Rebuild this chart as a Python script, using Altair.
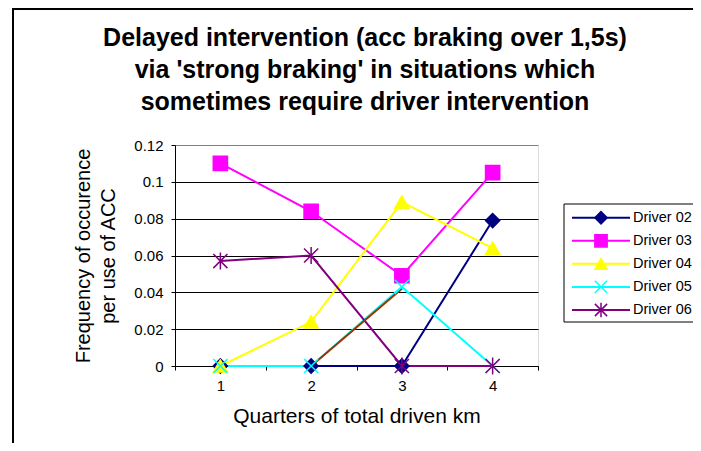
import altair as alt
import pandas as pd

FONT = "Liberation Sans"

title_lines = [
    "Delayed intervention (acc braking over 1,5s)",
    "via 'strong braking' in situations which",
    "sometimes require driver intervention",
]
quarters = [1, 2, 3, 4]
series_names = ["Driver 02", "Driver 03", "Driver 04", "Driver 05", "Driver 06"]
driver02 = [0, 0, 0, 0.079]
driver03 = [0.11, 0.084, 0.049, 0.105]
driver04 = [0, 0.024, 0.089, 0.064]
driver05 = [0, 0, 0.043, 0]
driver06 = [0.057, 0.060, 0, 0]
extra_name = "Series 6"
extra_series = [None, 0, 0.042, None]

colors = ["#000080", "#FF00FF", "#FFFF00", "#00FFFF", "#800080", "#993300"]
shapes = [
    "diamond",
    "square",
    "triangle-up",
    "M-1,-1L1,1M-1,1L1,-1",
    "M-1,-1L1,1M-1,1L1,-1M0,-1.2L0,1.2",
    "circle",
]

rows = []
for name, vals in zip(series_names + [extra_name],
                      [driver02, driver03, driver04, driver05, driver06, extra_series]):
    for q, v in zip(quarters, vals):
        if v is not None:
            rows.append({"quarter": q, "value": v, "series": name})
df = pd.DataFrame(rows)
df_pts = df[df["series"] != extra_name]
df_leg = pd.DataFrame({"series": series_names})
one = pd.DataFrame({"k": [0]})

all_names = series_names + [extra_name]
cscale = alt.Scale(domain=all_names, range=colors)
sscale = alt.Scale(domain=all_names, range=shapes)

x_enc = alt.X(
    "quarter:O",
    scale=alt.Scale(type="band", paddingInner=0, paddingOuter=0),
    axis=alt.Axis(
        title="Quarters of total driven km",
        titleFontSize=21, titleFont=FONT, titleFontWeight="normal", titleColor="black",
        titlePadding=12,
        labelAngle=0, labelFontSize=15, labelFont=FONT, labelColor="black", labelPadding=8,
        tickBand="extent", tickSize=4, tickColor="black", domainColor="black",
        grid=False,
    ),
)
y_enc = alt.Y(
    "value:Q",
    scale=alt.Scale(domain=[0, 0.12], nice=False, zero=True),
    axis=alt.Axis(
        title=["Frequency of occurence", "per use of ACC"],
        titleFontSize=20, titleFont=FONT, titleFontWeight="normal", titleColor="black",
        titleLineHeight=25, titlePadding=15,
        values=[0, 0.02, 0.04, 0.06, 0.08, 0.1, 0.12], format=".2~f",
        labelFontSize=15, labelFont=FONT, labelColor="black", labelPadding=8,
        tickSize=4, tickColor="black", domainColor="black",
        grid=True,
        gridColor={"condition": {"test": "datum.value >= 0.119", "value": "#808080"}, "value": "black"},
        gridWidth=1,
    ),
)

lines = alt.Chart(df).mark_line(strokeWidth=2).encode(
    x=x_enc, y=y_enc,
    color=alt.Color("series:N", scale=cscale, legend=None),
)
points = alt.Chart(df_pts).mark_point(filled=True, size=200, strokeWidth=1.5, opacity=1).encode(
    x=x_enc, y=y_enc,
    color=alt.Color("series:N", scale=cscale, legend=None),
    stroke=alt.Stroke("series:N", scale=cscale, legend=None),
    shape=alt.Shape("series:N", scale=sscale, legend=None),
)
main = alt.layer(lines, points)

leg_y = alt.Y("series:N", scale=alt.Scale(type="point", domain=series_names, range=[72.7, 165], padding=0), axis=None)
leg_box = alt.Chart(one).mark_rect(fill="white", stroke="black", strokeWidth=1).encode(
    x=alt.value(389), x2=alt.value(540), y=alt.value(59), y2=alt.value(177)
)
leg_rules = alt.Chart(df_leg).mark_rule(strokeWidth=2).encode(
    x=alt.value(397), x2=alt.value(455), y=leg_y,
    color=alt.Color("series:N", scale=cscale, legend=None),
)
leg_pts = alt.Chart(df_leg).mark_point(filled=True, size=150, strokeWidth=1.5, opacity=1).encode(
    x=alt.value(426), y=leg_y,
    color=alt.Color("series:N", scale=cscale, legend=None),
    stroke=alt.Stroke("series:N", scale=cscale, legend=None),
    shape=alt.Shape("series:N", scale=sscale, legend=None),
)
leg_text = alt.Chart(df_leg).mark_text(align="left", baseline="middle", fontSize=14.5, font=FONT, color="black").encode(
    x=alt.value(458), y=leg_y, text="series:N",
)
legend = alt.layer(leg_box, leg_rules, leg_pts, leg_text)

frame_v = alt.Chart(one).mark_rule(color="black", strokeWidth=2).encode(
    x=alt.value(-162), y=alt.value(-136), y2=alt.value(340)
)
frame_h = alt.Chart(one).mark_rule(color="black", strokeWidth=2).encode(
    x=alt.value(-163), x2=alt.value(560), y=alt.value(-136)
)
title_mark = alt.Chart(one).mark_text(
    text=title_lines, fontSize=25, font=FONT, fontWeight="bold", color="black",
    lineHeight=32, align="center", baseline="alphabetic",
).encode(x=alt.value(190), y=alt.value(-99))

chart = alt.layer(frame_v, frame_h, title_mark, main, legend).resolve_scale(y="independent").properties(
    width=363, height=221,
    autosize="none",
    padding={"left": 167, "top": 137, "right": 155, "bottom": 77},
).configure_view(fill="#C0C0C0", stroke="#808080", strokeWidth=2).configure(background="white")

chart.save("out.html", embed_options={"renderer": "svg", "actions": False})
